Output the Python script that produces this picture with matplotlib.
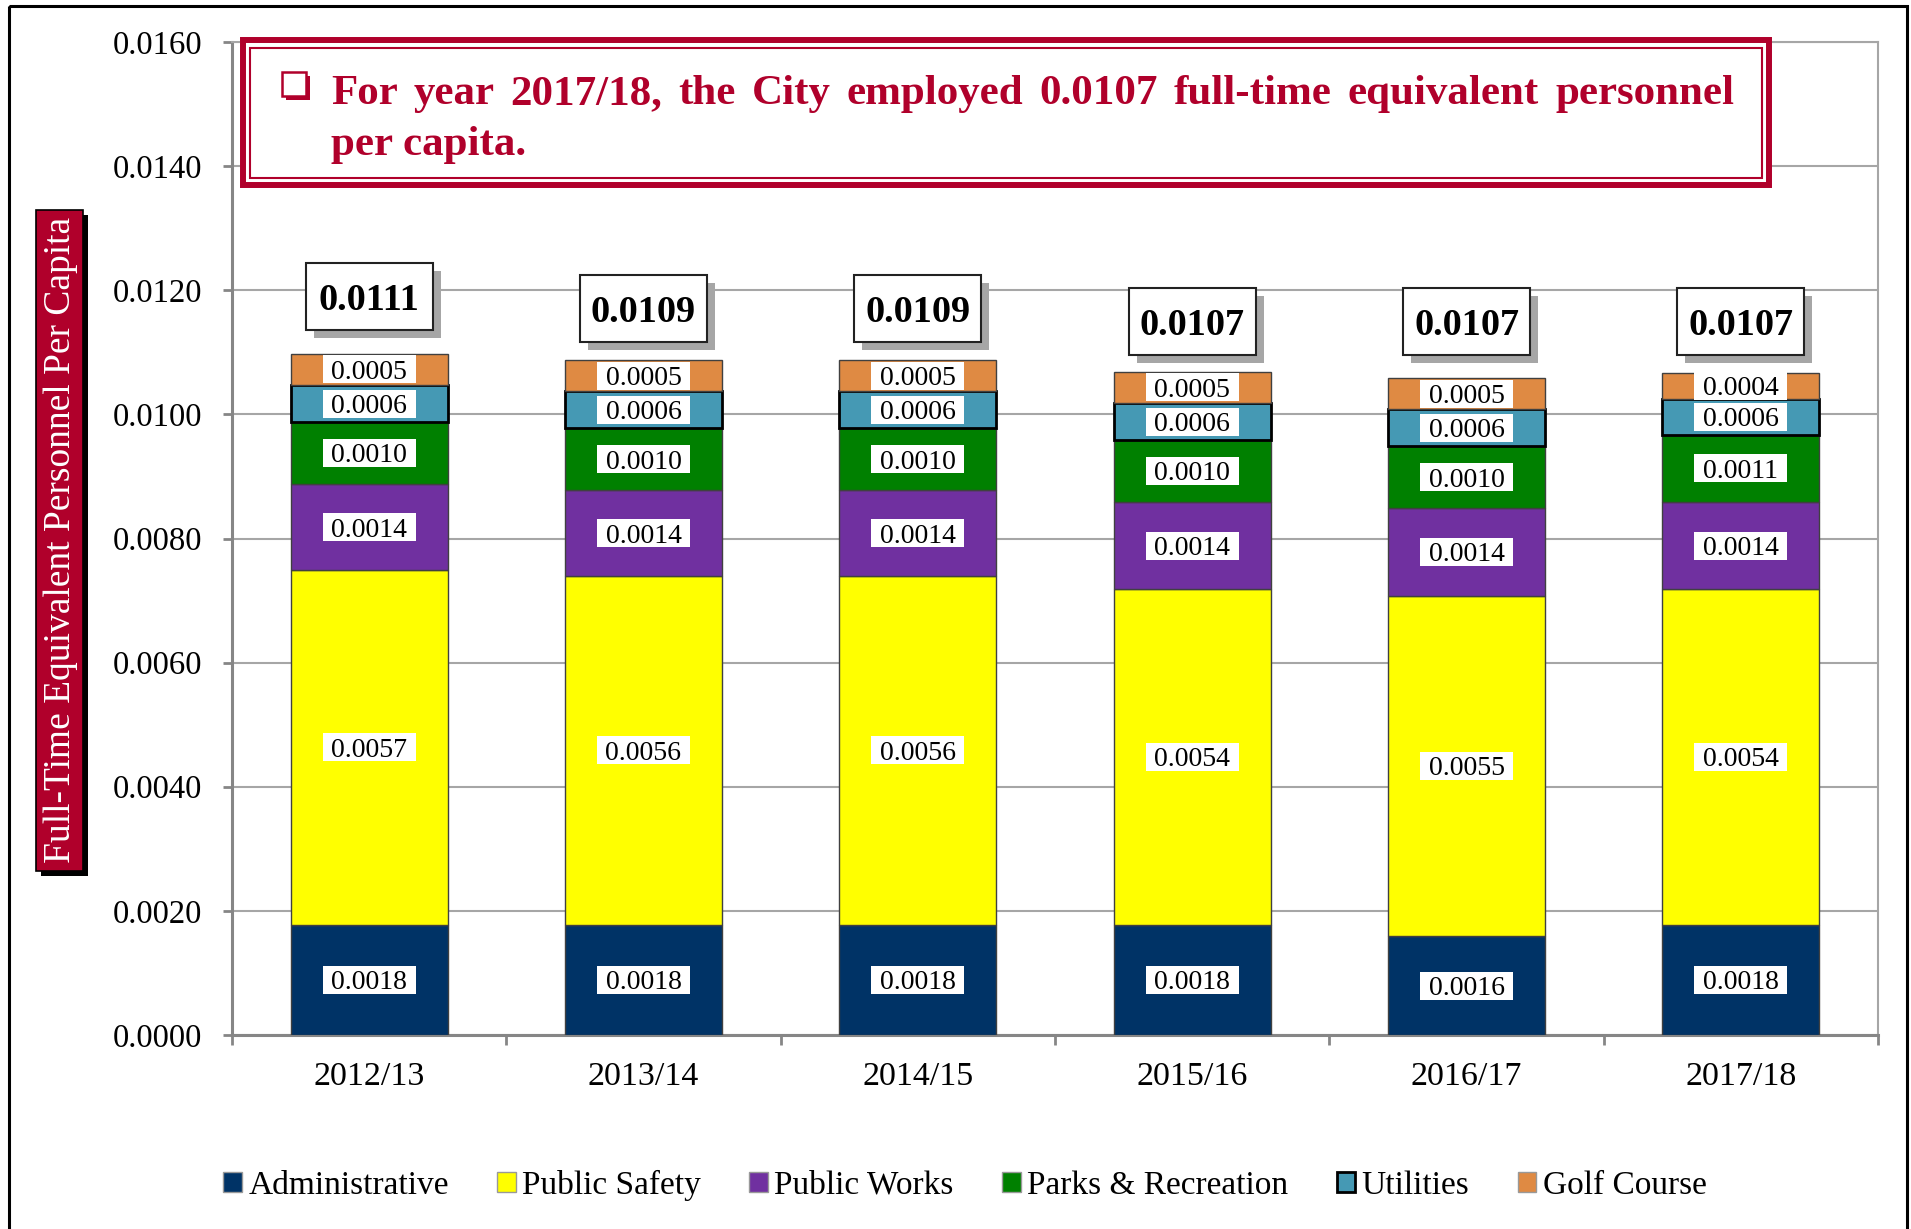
import matplotlib
matplotlib.use('Agg')
import matplotlib.pyplot as plt
import matplotlib.transforms as mtrans
from matplotlib.patches import Rectangle, Patch
import numpy as np

# ---------------- data ----------------
years = ['2012/13', '2013/14', '2014/15', '2015/16', '2016/17', '2017/18']
series_names = ['Administrative', 'Public Safety', 'Public Works',
                'Parks & Recreation', 'Utilities', 'Golf Course']
administrative = [0.00178, 0.00178, 0.00178, 0.00178, 0.00159, 0.00178]
public_safety = [0.00571, 0.00561, 0.00561, 0.00540, 0.00549, 0.00540]
public_works = [0.00139, 0.00139, 0.00139, 0.00141, 0.00141, 0.00141]
parks_rec = [0.00100, 0.00100, 0.00100, 0.00100, 0.00100, 0.00108]
utilities = [0.00059, 0.00059, 0.00059, 0.00059, 0.00059, 0.00058]
golf_course = [0.00051, 0.00051, 0.00051, 0.00051, 0.00051, 0.00042]
totals = [0.0111, 0.0109, 0.0109, 0.0107, 0.0107, 0.0107]
y_ticks = [0.0, 0.002, 0.004, 0.006, 0.008, 0.010, 0.012, 0.014, 0.016]

title_line1 = "For year 2017/18, the City employed 0.0107 full-time equivalent personnel"
title_line2 = "per capita."
ylabel = "Full-Time Equivalent Personnel Per Capita"

colors = ['#003366', '#FFFF00', '#7030A0', '#008000', '#4599B4', '#DF8A43']
RED = '#B0002B'
FONT = 'Liberation Serif'
plt.rcParams['font.family'] = [FONT, 'DejaVu Sans']

W, H = 1911, 1229
fig = plt.figure(figsize=(W / 100, H / 100), dpi=100)
# pixel transform (origin top-left)
T = mtrans.Affine2D().scale(1 / W, -1 / H).translate(0, 1) + fig.transFigure

ax_l, ax_r, ax_t, ax_b = 232, 1878, 42, 1035
ax = fig.add_axes([ax_l / W, (H - ax_b) / H, (ax_r - ax_l) / W, (ax_b - ax_t) / H])
ax.set_xlim(-0.5, 5.5)
ax.set_ylim(0, 0.016)
px_x = (ax_r - ax_l) / 6.0
px_y = (ax_b - ax_t) / 0.016

x = np.arange(len(years))
series = [administrative, public_safety, public_works, parks_rec, utilities, golf_course]
bw = 0.572
bottom = np.zeros(len(years))
for i, (vals, c) in enumerate(zip(series, colors)):
    vals = np.array(vals)
    if series_names[i] == 'Utilities':
        ec, lw = 'black', 2.0
    else:
        ec, lw = '#404040', 1.0
    ax.bar(x, vals, bw, bottom=bottom, color=c, edgecolor=ec, linewidth=lw, zorder=3)
    # labels
    for xi, b, v in zip(x, bottom, vals):
        cy = b + v / 2
        bwid = 93 / px_x
        bhei = 28 / px_y
        ax.add_patch(Rectangle((xi - bwid / 2, cy - bhei / 2), bwid, bhei,
                               facecolor='white', edgecolor='none', zorder=4))
        ax.text(xi, cy - 9.5 / px_y, '{:.4f}'.format(v), ha='center', va='baseline',
                fontsize=20, color='black', zorder=5)
    bottom = bottom + vals

# total boxes
for xi, t in zip(x, totals):
    cy = t + 0.0008
    bwid = 127 / px_x
    bhei = 67 / px_y
    ax.add_patch(Rectangle((xi - bwid / 2 + 8 / px_x, cy - bhei / 2 - 8 / px_y), bwid, bhei,
                           facecolor='#A6A6A6', edgecolor='none', zorder=5, clip_on=False))
    ax.add_patch(Rectangle((xi - bwid / 2, cy - bhei / 2), bwid, bhei,
                           facecolor='white', edgecolor='#222222', linewidth=1.5,
                           zorder=6, clip_on=False))
    ax.text(xi, cy - 13.5 / px_y, '{:.4f}'.format(t), ha='center', va='baseline',
            fontsize=27.5, fontweight='bold', color='black', zorder=7)

# axes styling
ax.set_yticks(y_ticks)
ax.set_yticklabels(['{:.4f}'.format(v) for v in y_ticks], fontsize=23.5)
ax.set_xticks(x)
ax.set_xticklabels(years, fontsize=24.5)
ax.set_xticks(np.arange(-0.5, 6.0, 1.0), minor=True)
ax.tick_params(axis='x', which='major', length=0, pad=19)
ax.tick_params(axis='x', which='minor', length=7.5, width=2, color='#868686', direction='out')
ax.tick_params(axis='y', which='major', length=6.5, width=2, color='#868686', pad=15)
ax.yaxis.grid(True, color='#A6A6A6', linewidth=1.5, zorder=0)
ax.set_axisbelow(True)
for s in ['left', 'bottom']:
    ax.spines[s].set_color('#868686')
    ax.spines[s].set_linewidth(2.2)
for s in ['top', 'right']:
    ax.spines[s].set_color('#A6A6A6')
    ax.spines[s].set_linewidth(1.5)

# legend
handles = []
for n, c in zip(series_names, colors):
    if n == 'Utilities':
        handles.append(Patch(facecolor=c, edgecolor='black', linewidth=2))
    else:
        handles.append(Patch(facecolor=c, edgecolor='#999999', linewidth=1))
fig.legend(handles, series_names, loc='center', bbox_to_anchor=(965 / W, 44 / H),
           ncol=6, frameon=False, prop=dict(family=FONT, size=24),
           handlelength=0.55, handleheight=0.55, handletextpad=0.2, columnspacing=1.45)

# figure border
fig.patches.append(Rectangle((9, 6), 1898, 1240, transform=T, fill=False,
                             edgecolor='black', linewidth=2.2, zorder=10))

# y-label box
fig.patches.append(Rectangle((41, 215), 47, 661, transform=T, facecolor='black',
                             edgecolor='none', zorder=2))
fig.patches.append(Rectangle((36, 210), 47, 661, transform=T, facecolor=RED,
                             edgecolor='black', linewidth=1.2, zorder=3))
fig.text(61, 540, ylabel, transform=T, rotation=90, ha='center', va='center',
         color='white', fontsize=27, zorder=4)

# title box
fig.patches.append(Rectangle((240, 37), 1532, 151, transform=T, facecolor='white',
                             edgecolor='none', zorder=2))
fig.patches.append(Rectangle((243, 40), 1526, 145, transform=T, fill=False,
                             edgecolor=RED, linewidth=4.3, zorder=3))
fig.patches.append(Rectangle((250, 48), 1512, 130, transform=T, fill=False,
                             edgecolor=RED, linewidth=1.5, zorder=3))
# checkbox
fig.patches.append(Rectangle((286, 76), 24, 24, transform=T, facecolor=RED,
                             edgecolor='none', zorder=4))
fig.patches.append(Rectangle((282, 72), 24, 24, transform=T, facecolor='white',
                             edgecolor=RED, linewidth=1.8, zorder=5))

renderer = fig.canvas.get_renderer()
title_fs = 31
words = title_line1.split(' ')
x0, x1 = 331, 1734
tobjs = []
for w in words:
    t = fig.text(x0, 104, w, transform=T, ha='left', va='baseline', color=RED,
                 fontsize=title_fs, fontweight='bold', zorder=6)
    tobjs.append(t)
widths = [t.get_window_extent(renderer).width for t in tobjs]
gap = (x1 - x0 - sum(widths)) / (len(words) - 1)
cx = x0
for t, wd in zip(tobjs, widths):
    t.set_x(cx)
    cx += wd + gap
fig.text(x0, 155, title_line2, transform=T, ha='left', va='baseline', color=RED,
         fontsize=title_fs, fontweight='bold', zorder=6)

fig.savefig('out.png', dpi=100)
